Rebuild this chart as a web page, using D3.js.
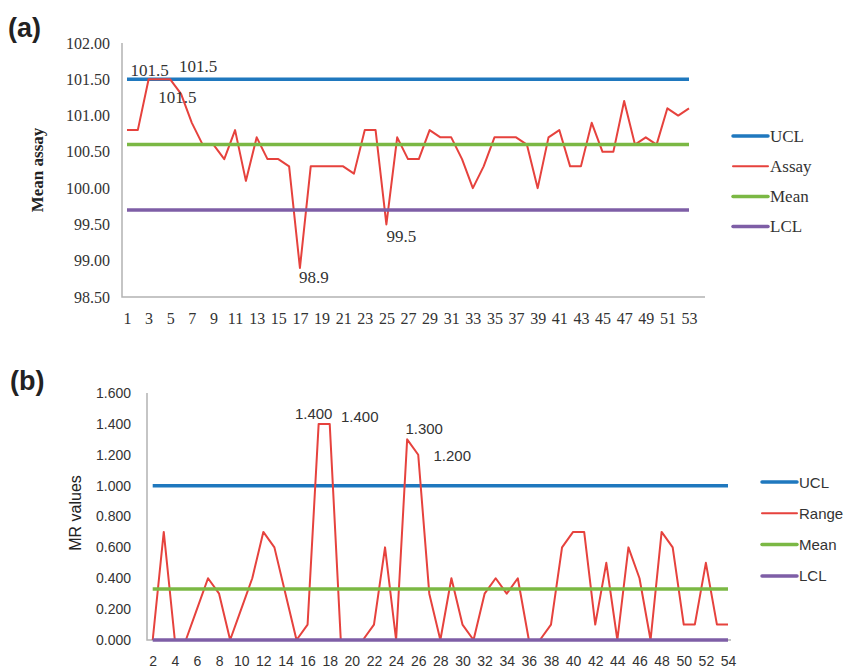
<!DOCTYPE html>
<html>
<head>
<meta charset="utf-8">
<script src="https://cdn.jsdelivr.net/npm/d3@7"></script>
<style>
  body { margin: 0; background: #fff; }
  svg { display: block; }
</style>
</head>
<body>
<svg id="chart" width="846" height="671"></svg>
<script>
// ---- data: panel (a) individual assay chart ----
var assayCats = d3.range(1, 54);
var assayValues = [100.8, 100.8, 101.5, 101.5, 101.5, 101.3, 100.9, 100.6, 100.6, 100.4,
  100.8, 100.1, 100.7, 100.4, 100.4, 100.3, 98.9, 100.3, 100.3, 100.3,
  100.3, 100.2, 100.8, 100.8, 99.5, 100.7, 100.4, 100.4, 100.8, 100.7,
  100.7, 100.4, 100.0, 100.3, 100.7, 100.7, 100.7, 100.6, 100.0, 100.7,
  100.8, 100.3, 100.3, 100.9, 100.5, 100.5, 101.2, 100.6, 100.7, 100.6,
  101.1, 101.0, 101.1];
var assayUCL = 101.5, assayMean = 100.6, assayLCL = 99.7;
var assayTicks = [98.5, 99, 99.5, 100, 100.5, 101, 101.5, 102];
var assayLabelIdx = [3, 5, 4, 17, 25];

// ---- data: panel (b) moving range chart ----
var mrCats = d3.range(2, 55);
var mrValues = [0, 0.7, 0, 0, 0.2, 0.4, 0.3, 0, 0.2, 0.4,
  0.7, 0.6, 0.3, 0, 0.1, 1.4, 1.4, 0, 0, 0,
  0.1, 0.6, 0, 1.3, 1.2, 0.3, 0, 0.4, 0.1, 0,
  0.3, 0.4, 0.3, 0.4, 0, 0, 0.1, 0.6, 0.7, 0.7,
  0.1, 0.5, 0, 0.6, 0.4, 0, 0.7, 0.6, 0.1, 0.1,
  0.5, 0.1, 0.1];
var mrUCL = 1.0, mrMean = 0.33, mrLCL = 0;
var mrTicks = [0, 0.2, 0.4, 0.6, 0.8, 1.0, 1.2, 1.4, 1.6];
var mrLabelIdx = [17, 18, 25, 26];

var colors = { ucl: '#1f78be', data: '#e6423d', mean: '#7bb844', lcl: '#7e5ea6', axis: '#b3b3b3' };

var svg = d3.select('#chart');

function drawPanel(opt) {
  var g = svg.append('g');
  var x = d3.scalePoint().domain(opt.cats).range(opt.xRange);
  var y = d3.scaleLinear().domain(opt.yDomain).range(opt.yRange);

  // axes (Excel style: plain lines, no tick marks)
  var yAxis = d3.axisLeft(y).tickValues(opt.yTicks).tickSize(0).tickPadding(opt.yPad).tickFormat(d3.format(opt.fmt));
  var ya = g.append('g').attr('transform', 'translate(' + opt.axisX + ',0)').call(yAxis);
  ya.select('.domain').remove();
  ya.selectAll('text').style('font-family', opt.font).style('font-size', opt.tickSize + 'px').attr('fill', '#333');

  var xAxis = d3.axisBottom(x).tickValues(opt.cats.filter(function (d, i) { return i % 2 === 0; }))
    .tickSize(0).tickPadding(opt.xPad);
  var xa = g.append('g').attr('transform', 'translate(0,' + opt.yRange[0] + ')').call(xAxis);
  xa.select('.domain').remove();
  xa.selectAll('text').style('font-family', opt.font).style('font-size', opt.tickSize + 'px').attr('fill', '#333');

  g.append('path')
    .attr('d', 'M' + opt.axisX + ',' + opt.yRange[1] + 'V' + opt.yRange[0] + 'H' + opt.axisEnd)
    .attr('fill', 'none').attr('stroke', colors.axis).attr('stroke-width', 1.5);

  var line = d3.line().x(function (d) { return x(d.c); }).y(function (d) { return y(d.v); });
  function series(v) {
    return opt.cats.map(function (c, i) { return { c: c, v: Array.isArray(v) ? v[i] : v }; });
  }
  var lines = [
    { key: 'ucl', vals: series(opt.ucl), w: 3.5 },
    { key: 'data', vals: series(opt.values), w: 2 },
    { key: 'mean', vals: series(opt.mean), w: 3.5 },
    { key: 'lcl', vals: series(opt.lcl), w: 3.5 }
  ];
  g.selectAll('.ln').data(lines).enter().append('path')
    .attr('class', 'ln')
    .attr('d', function (d) { return line(d.vals); })
    .attr('fill', 'none')
    .attr('stroke', function (d) { return colors[d.key]; })
    .attr('stroke-width', function (d) { return d.w; })
    .attr('stroke-linejoin', 'round');

  // data labels
  g.selectAll('.lbl').data(opt.labelIdx).enter().append('text')
    .attr('x', function (c, i) { return x(c) + opt.labelOff[i][0]; })
    .attr('y', function (c, i) { return y(opt.values[opt.cats.indexOf(c)]) + opt.labelOff[i][1]; })
    .attr('text-anchor', 'middle').attr('dominant-baseline', 'central')
    .style('font-family', opt.font).style('font-size', opt.labelSize + 'px').attr('fill', '#333')
    .text(function (c) { return opt.labelFmt(opt.values[opt.cats.indexOf(c)]); });

  // legend
  var lg = g.selectAll('.leg').data(opt.legend).enter().append('g')
    .attr('transform', function (d, i) { return 'translate(' + opt.legX + ',' + (opt.legY + i * opt.legStep) + ')'; });
  lg.append('line').attr('x1', 0).attr('x2', 35).attr('y1', 0).attr('y2', 0)
    .attr('stroke', function (d) { return colors[d.key]; })
    .attr('stroke-width', function (d) { return d.key === 'data' ? 2 : 3.5; })
    .attr('stroke-linecap', 'round');
  lg.append('text').attr('x', 37).attr('y', 0).attr('dominant-baseline', 'central')
    .style('font-family', opt.font).style('font-size', opt.legSize + 'px').attr('fill', '#333')
    .text(function (d) { return d.name; });

  // axis title
  g.append('text')
    .attr('transform', 'translate(' + opt.titleX + ',' + opt.titleY + ') rotate(-90)')
    .attr('text-anchor', 'middle')
    .style('font-family', opt.font).style('font-size', opt.titleSize + 'px')
    .style('font-weight', opt.titleWeight).attr('fill', '#222')
    .text(opt.title);

  // panel letter
  g.append('text').attr('x', opt.tagX).attr('y', opt.tagY)
    .style('font-family', 'Liberation Sans, Arial, sans-serif').style('font-size', '27px')
    .style('font-weight', 'bold').attr('fill', '#222').text(opt.tag);
}

drawPanel({
  cats: assayCats, values: assayValues, ucl: assayUCL, mean: assayMean, lcl: assayLCL,
  xRange: [127, 689], yDomain: [98.5, 102], yRange: [297, 43], yTicks: assayTicks, fmt: '.2f',
  axisX: 122, axisEnd: 705, yPad: 12, xPad: 16,
  font: 'Liberation Serif, Times New Roman, serif', tickSize: 16, labelSize: 17,
  labelIdx: assayLabelIdx, labelOff: [[1, -9], [28, -13], [18, 18], [14, 10], [15, 12]],
  labelFmt: d3.format('.1f'),
  legend: [{ key: 'ucl', name: 'UCL' }, { key: 'data', name: 'Assay' }, { key: 'mean', name: 'Mean' }, { key: 'lcl', name: 'LCL' }],
  legX: 733, legY: 136, legStep: 30.2, legSize: 17,
  title: 'Mean assay', titleX: 43, titleY: 170, titleSize: 17, titleWeight: 'bold',
  tag: '(a)', tagX: 8, tagY: 37
});

drawPanel({
  cats: mrCats, values: mrValues, ucl: mrUCL, mean: mrMean, lcl: mrLCL,
  xRange: [152.7, 728], yDomain: [0, 1.6], yRange: [640, 393], yTicks: mrTicks, fmt: '.3f',
  axisX: 147, axisEnd: 731, yPad: 16, xPad: 16,
  font: 'Liberation Sans, Arial, sans-serif', tickSize: 14, labelSize: 15,
  labelIdx: mrLabelIdx, labelOff: [[-5, -10], [30, -7], [17, -11], [34, 1]],
  labelFmt: d3.format('.3f'),
  legend: [{ key: 'ucl', name: 'UCL' }, { key: 'data', name: 'Range' }, { key: 'mean', name: 'Mean' }, { key: 'lcl', name: 'LCL' }],
  legX: 762, legY: 482, legStep: 31.3, legSize: 15,
  title: 'MR values', titleX: 81, titleY: 513, titleSize: 16, titleWeight: 'normal',
  tag: '(b)', tagX: 10, tagY: 390
});
</script>
</body>
</html>
